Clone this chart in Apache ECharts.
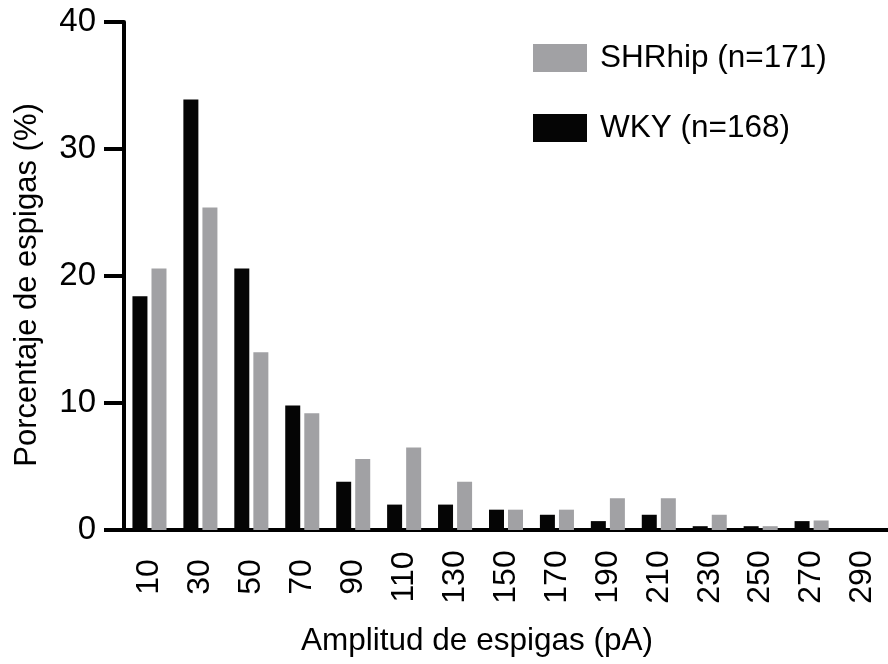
<!DOCTYPE html>
<html>
<head>
<meta charset="utf-8">
<script src="https://cdn.jsdelivr.net/npm/echarts@6/dist/echarts.min.js"></script>
<style>html,body{margin:0;padding:0;background:#fff;}#chart{width:888px;height:664px;}</style>
</head>
<body>
<div id="chart"></div>
<script>
const categories = ['10','30','50','70','90','110','130','150','170','190','210','230','250','270','290'];
const wkyValues = [18.4, 33.9, 20.6, 9.8, 3.8, 2.0, 2.0, 1.6, 1.2, 0.7, 1.2, 0.3, 0.3, 0.7, 0];
const shrValues = [20.6, 25.4, 14.0, 9.2, 5.6, 6.5, 3.8, 1.6, 1.6, 2.5, 2.5, 1.2, 0.3, 0.75, 0];
const yTicks = [0, 10, 20, 30, 40];
const seriesNames = ['WKY (n=168)', 'SHRhip (n=171)'];

const FONT = "'Liberation Sans', Arial, Helvetica, sans-serif";
const chart = echarts.init(document.getElementById('chart'), null, {renderer: 'canvas'});
chart.setOption({
  backgroundColor: '#ffffff',
  animation: false,
  textStyle: {fontFamily: FONT, color: '#000'},
  grid: {left: 124, right: -2, top: 22, bottom: 134, containLabel: false},
  legend: {
    orient: 'vertical', left: 533, top: 42, padding: 0,
    data: [seriesNames[1], seriesNames[0]],
    icon: 'rect', itemWidth: 54, itemHeight: 28, itemGap: 38,
    textStyle: {fontFamily: FONT, fontSize: 31.5, color: '#000', padding: [0, 0, 0, 8]}
  },
  xAxis: {
    type: 'category', data: categories,
    name: 'Amplitud de espigas (pA)', nameLocation: 'middle', nameGap: 95,
    nameTextStyle: {fontFamily: FONT, fontSize: 31.5, color: '#000', padding: [0, 58, 0, 0]},
    axisLine: {lineStyle: {color: '#000', width: 4}},
    axisTick: {alignWithLabel: true, length: 20, lineStyle: {color: '#000', width: 4}},
    axisLabel: {rotate: 90, align: 'center', verticalAlign: 'middle', margin: 47, fontFamily: FONT, fontSize: 32, color: '#000', interval: 0}
  },
  yAxis: {
    type: 'value', min: yTicks[0], max: yTicks[yTicks.length - 1], interval: 10,
    name: 'Porcentaje de espigas (%)', nameLocation: 'middle', nameGap: 81,
    nameTextStyle: {fontFamily: FONT, fontSize: 31, color: '#000', padding: [0, 18, 0, 0]},
    axisLine: {show: true, lineStyle: {color: '#000', width: 4}},
    axisTick: {show: true, length: 20, lineStyle: {color: '#000', width: 4}},
    axisLabel: {margin: 28, fontFamily: FONT, fontSize: 33, color: '#000'},
    splitLine: {show: false}
  },
  graphic: [{
    type: 'line', shape: {x1: 104, y1: 530, x2: 126, y2: 530},
    style: {stroke: '#000', lineWidth: 4}
  }],
  series: [
    {name: seriesNames[0], type: 'bar', data: wkyValues, barWidth: 15, barGap: '27%', itemStyle: {color: '#050505'}},
    {name: seriesNames[1], type: 'bar', data: shrValues, barWidth: 15, barGap: '27%', itemStyle: {color: '#a1a1a4'}}
  ]
});
</script>
</body>
</html>
